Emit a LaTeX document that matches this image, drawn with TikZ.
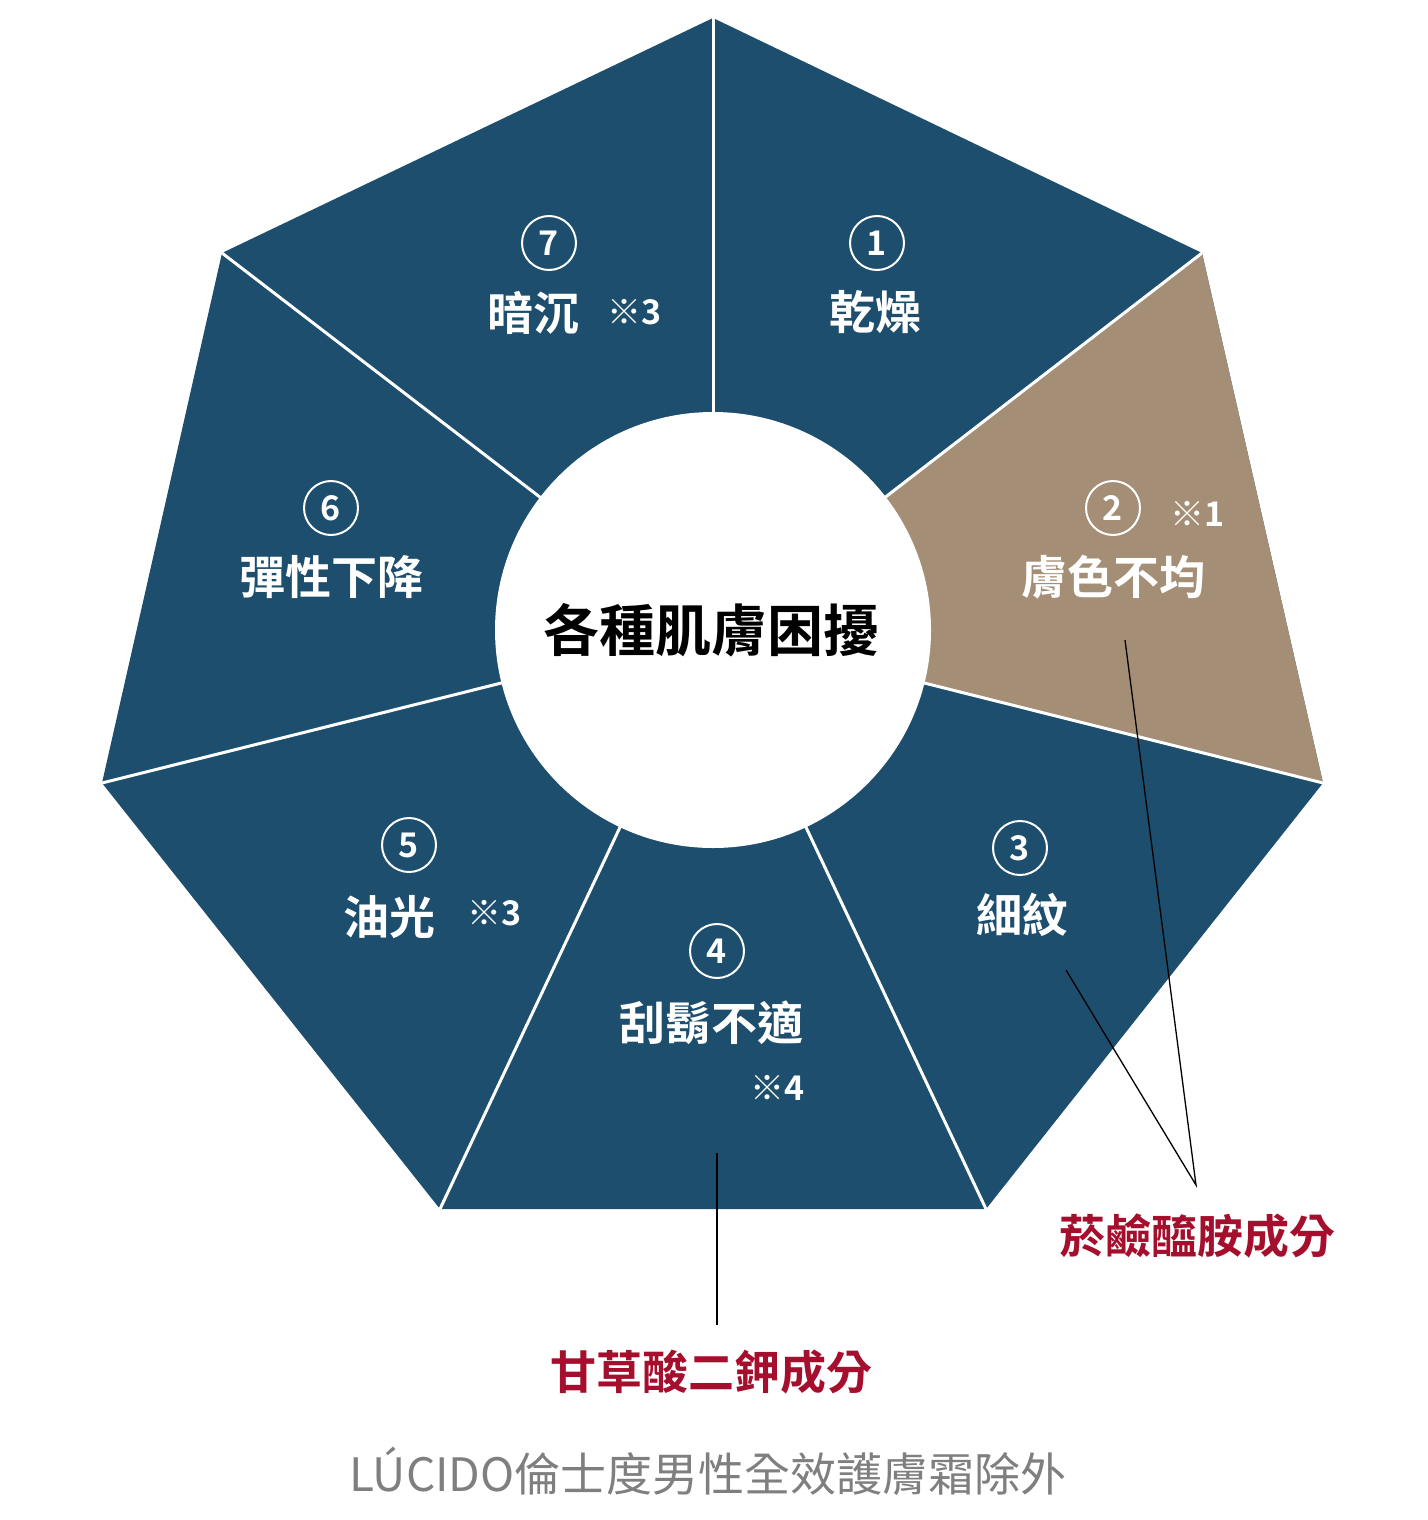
\documentclass[tikz,border=0pt]{standalone}
\usepackage{fontspec}
\setmainfont{Noto Sans CJK TC}[BoldFont={Noto Sans CJK TC Bold}]
\definecolor{navy}{HTML}{1D4E6E}
\definecolor{tan}{HTML}{A48F76}
\definecolor{lred}{HTML}{A50F2D}
\definecolor{lgray}{HTML}{7F7F7F}
\begin{document}
\begin{tikzpicture}[x=1pt,y=-1pt,
 lab/.style={text=white,font=\bfseries\fontsize{46}{50}\selectfont,inner sep=0},
 note/.style={text=white,font=\bfseries\fontsize{34}{38}\selectfont,inner sep=0},
 num/.style={circle,draw=white,line width=2pt,minimum size=54pt,inner sep=0,text=white,font=\bfseries\fontsize{34}{38}\selectfont},
 sep/.style={white,line width=3pt},
 lead/.style={black,line width=1.3pt}]
\useasboundingbox (0,0) rectangle (1427,1520);
\coordinate (v0) at (713,18); \coordinate (v1) at (1202,253); \coordinate (v2) at (1323,783);
\coordinate (v3) at (986,1209); \coordinate (v4) at (440,1209); \coordinate (v5) at (102,783);
\coordinate (v6) at (222,253); \coordinate (c) at (713,630);
\fill[navy] (v0)--(v1)--(v2)--(v3)--(v4)--(v5)--(v6)--cycle;
\fill[tan] (c)--(v1)--(v2)--cycle;
\foreach \v in {v0,v1,v2,v3,v4,v5,v6} \draw[sep] (c)--(\v);
\node[circle,fill=white,minimum size=436pt,inner sep=0] (hub) at (c) {};
\node[font=\bfseries\fontsize{56}{60}\selectfont] (ht) at (711,630) {各種肌膚困擾};
\node[num] (n1) at (877,243) {1}; \node[lab] (t1) at (875,312) {乾燥};
\node[num] (n2) at (1113,508) {2}; \node[note] (s2) at (1198,514) {※1}; \node[lab] (t2) at (1113,577) {膚色不均};
\node[num] (n3) at (1020,848) {3}; \node[lab] (t3) at (1022,915) {細紋};
\node[num] (n4) at (717,951) {4}; \node[lab] (t4) at (711,1023) {刮鬍不適}; \node[note] (s4) at (778,1088) {※4};
\node[num] (n5) at (409,845) {5}; \node[lab] (t5) at (389,917) {油光}; \node[note] (s5) at (495,913) {※3};
\node[num] (n6) at (331,508) {6}; \node[lab] (t6) at (331,577) {彈性下降};
\node[num] (n7) at (549,243) {7}; \node[lab] (t7) at (533,313) {暗沉}; \node[note] (s7) at (635,312) {※3};
\node[text=lred,font=\bfseries\fontsize{46}{50}\selectfont,inner sep=0] (r1) at (1197,1236) {菸鹼醯胺成分};
\node[text=lred,font=\bfseries\fontsize{46}{50}\selectfont,inner sep=0] (r2) at (711,1372) {甘草酸二鉀成分};
\node[text=lgray,font=\fontsize{46}{50}\selectfont,inner sep=0] (ft) at (708,1471) {LÚCIDO倫士度男性全效護膚霜除外};
\coordinate (a1) at (1125,640); \coordinate (a2) at (1066,970); \coordinate (j) at (1196,1185);
\coordinate (b1) at (717,1153); \coordinate (b2) at (717,1325);
\draw[lead] (a1)--(j)--(a2);
\draw[lead] (b1)--(b2);
\end{tikzpicture}
\end{document}
